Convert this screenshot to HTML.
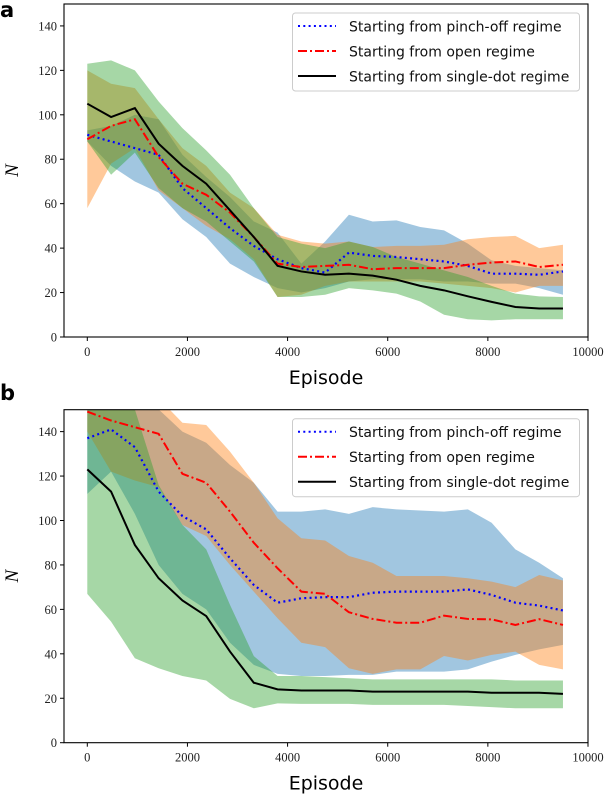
<!DOCTYPE html>
<html><head><meta charset="utf-8"><style>
html,body{margin:0;padding:0;background:#fff;}
svg text{font-family:"Liberation Serif",serif;}
.sans{font-family:"DejaVu Sans","Liberation Sans",sans-serif;}
</style></head><body>
<svg id="fig" width="608" height="794" viewBox="0 0 608 794" xmlns="http://www.w3.org/2000/svg"></svg>
<script>
const episodes=[0,475,950,1425,1900,2375,2850,3325,3800,4275,4750,5225,5700,6175,6650,7125,7600,8075,8550,9025,9500];
const xTicks=[0,2000,4000,6000,8000,10000];
const yTicks=[0,20,40,60,80,100,120,140];
const seriesNames=["Starting from pinch-off regime","Starting from open regime","Starting from single-dot regime"];
// Panel a
const aBlue=[91,88,85,82,67,58,49,41,35,31,29,38,36.5,36,35,34,32,28.5,28.5,28,29.5];
const aRed=[89,95,98,81,69,64,56,45,33,31.5,32,32.5,30.5,31,31,31,32.5,33.5,34,31.5,32.5];
const aBlack=[105,99,103,87,77,69,57,45,32,29.5,28,28.5,27.6,25.8,23,21,18.3,15.8,13.5,12.8,12.8];
const aBlueUp=[93,95,100,98,82,72,63,52,47,33,43,55,52,52.5,49.5,48,42,34.5,32,31,30];
const aBlueLo=[88,77,70,65,53,45,33,27,22,20,22,25,26,26,26,25,25,24,24,22,19];
const aOrUp=[120,114,112,98,85,77,65,58,46,43,42,43,40.5,41,41,41.5,44,45,45.5,40,41.5];
const aOrLo=[58,78,85,66,58,50,44,35,18,19,23,25,25,25,25,24,23,22,20,23,23];
const aGrUp=[123,124.5,120,106,94,84,73,58,45,42,40,43,40.5,36,33,30,27,23,19.5,18.3,18];
const aGrLo=[88,73,83,67,58,52,43,34,18,18,19,22,21,19.5,16,10,8,7.5,8,8,8];
// Panel b
const bBlue=[137,141,133,113,102,96,83,71,63,65,65.5,65.5,67.5,68,68,68,69,66.5,63,61.7,59.5];
const bRed=[149,145,142,139,121,117,104,90,78.5,68,67,58.7,55.7,54,54,57.2,55.7,55.5,53,55.6,53];
const bBlack=[123,113,89,74,64,57,41,27,24,23.5,23.5,23.5,23,23,23,23,23,22.5,22.5,22.5,22];
const bBlueUp=[170,165,160,150,140,135,125,117,104,104,105,103,106,105,104.5,104,105,99,87,81,74];
const bBlueLo=[112,122,103,80,67,60,45,35,31,30,30,30.5,30.5,32,32,32,33,36.5,39.5,42,44];
const bOrUp=[170,165,160,155,144,143,131,117,101,92,91,84,81,75,75,75,74,72.5,70,75.5,73];
const bOrLo=[140,122,118,115,98,93,80,68,56,45,43,33.5,31,33,33,39,37,39.5,41,35,33];
const bGrUp=[160,155,150,116,98,87,62,39,30,30,29.5,29,28.5,28.5,28.5,28.5,28.5,28.5,28,28,28];
const bGrLo=[67,54.5,38,33.5,30,28,19.7,15.5,17.7,17.5,17.5,17.5,17,17,17,17,16.5,16,15.5,15.5,15.5];

const NS="http://www.w3.org/2000/svg";
const svg=document.getElementById('fig');
function mk(tag,attrs,parent){const e=document.createElementNS(NS,tag);for(const k in attrs)e.setAttribute(k,attrs[k]);(parent||svg).appendChild(e);return e;}
const L=64,R=588,X0=87.3,XS=(588-87.3)/10000,YS=2.222;

function panel(id,top,bottom,d,letterY){
  const g=mk('g',{});
  
  
  const sx=v=>X0+v*XS, sy=v=>bottom-v*YS;
  const cp=mk('clipPath',{id:'clip'+id},g);
  mk('rect',{x:L,y:top,width:R-L,height:bottom-top},cp);
  const plot=mk('g',{'clip-path':'url(#clip'+id+')'},g);
  function band(up,lo,color,name){
    let pts=episodes.map((e,i)=>sx(e)+','+sy(up[i]));
    for(let i=episodes.length-1;i>=0;i--)pts.push(sx(episodes[i])+','+sy(lo[i]));
    const p=mk('polygon',{points:pts.join(' '),fill:color,'fill-opacity':0.42},plot);
    
    
  }
  band(d.bu,d.bl,'#1f77b4','band-pinch-off');
  band(d.ou,d.ol,'#ff7f0e','band-open');
  band(d.gu,d.gl,'#2ca02c','band-single-dot');
  function line(vals,color,dash,name,w){
    const p=mk('polyline',{points:episodes.map((e,i)=>sx(e)+','+sy(vals[i])).join(' '),fill:'none',stroke:color,'stroke-width':w||2,'stroke-dasharray':dash},plot);
    
    
  }
  line(d.blue,'#0000ff','2 3.3','line-pinch-off',2.2);
  line(d.red,'#ff0000','9 3 2 3','line-open');
  line(d.black,'#000000','none','line-single-dot');
  const fr=mk('rect',{x:L,y:top,width:R-L,height:bottom-top,fill:'none',stroke:'#000','stroke-width':1.1},g);
  
  
  xTicks.forEach(t=>{
    mk('line',{x1:sx(t),x2:sx(t),y1:bottom,y2:bottom+4,stroke:'#000'},g);
    const tx=mk('text',{x:sx(t),y:bottom+19,'text-anchor':'middle','font-size':12.5,fill:'#222'},g);
    tx.textContent=t;
    
    
  });
  yTicks.forEach(t=>{
    mk('line',{x1:L-4,x2:L,y1:sy(t),y2:sy(t),stroke:'#000'},g);
    const tx=mk('text',{x:L-7,y:sy(t)+4.5,'text-anchor':'end','font-size':12.5,fill:'#222'},g);
    tx.textContent=t;
    
    
  });
  const xl=mk('text',{x:326,y:bottom+47,'text-anchor':'middle','font-size':19,class:'sans'},g);
  xl.textContent='Episode';
  
  
  const yl=mk('text',{x:18,y:(top+bottom)/2,'text-anchor':'middle','font-size':19,'font-style':'italic',transform:'rotate(-90 18 '+((top+bottom)/2)+')'},g);
  yl.textContent='N';
  
  
  const lt=mk('text',{x:0,y:letterY,'font-size':21,'font-weight':'bold',class:'sans'},g);
  lt.textContent=id;
  
  
  const lg=mk('g',{},g);
  
  
  const ly=top+9;
  mk('rect',{x:292.5,y:ly,width:287,height:78,rx:3,fill:'#fff','fill-opacity':0.8,stroke:'#ccc'},lg);
  const st=[['#0000ff','2 3.3'],['#ff0000','9 3 2 3'],['#000','none']];
  seriesNames.forEach((n,i)=>{
    const yy=ly+13+i*25;
    mk('line',{x1:298,x2:336,y1:yy,y2:yy,stroke:st[i][0],'stroke-width':2,'stroke-dasharray':st[i][1]},lg);
    const tx=mk('text',{x:349,y:yy+5.5,'font-size':14,class:'sans',fill:'#111'},lg);
    tx.textContent=n;
    
    
  });
}
panel('a',4,337,{blue:aBlue,red:aRed,black:aBlack,bu:aBlueUp,bl:aBlueLo,ou:aOrUp,ol:aOrLo,gu:aGrUp,gl:aGrLo},17);
panel('b',409.7,742.7,{blue:bBlue,red:bRed,black:bBlack,bu:bBlueUp,bl:bBlueLo,ou:bOrUp,ol:bOrLo,gu:bGrUp,gl:bGrLo},400);
</script>
</body></html>
